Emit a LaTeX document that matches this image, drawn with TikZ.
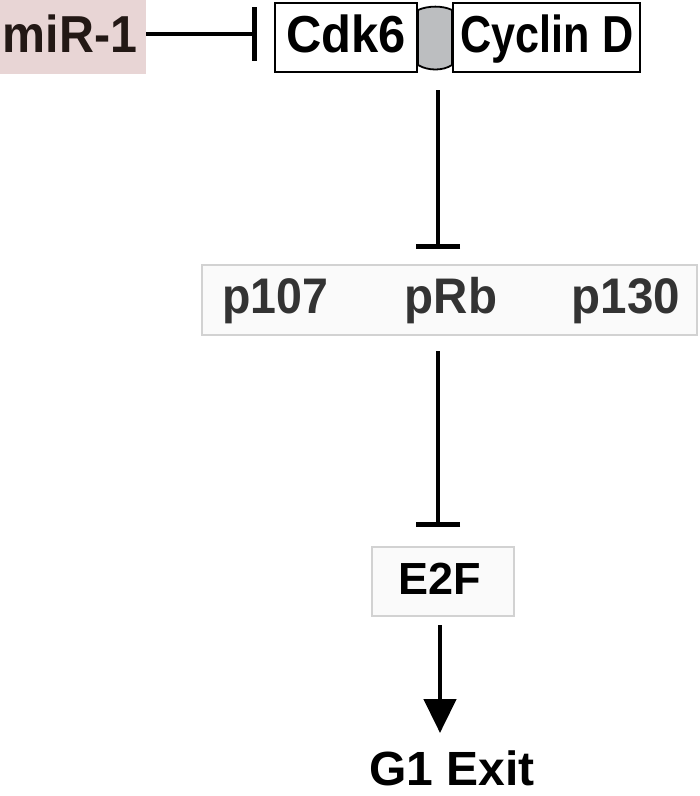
\documentclass[tikz,border=0pt]{standalone}
\usepackage{fontspec}
\setmainfont{Liberation Sans}
\usetikzlibrary{arrows.meta}
\definecolor{mirpink}{HTML}{E8D5D5}
\definecolor{mirtext}{HTML}{231815}
\definecolor{linkgrey}{HTML}{BCBEC0}
\definecolor{boxedge}{HTML}{D2D2D2}
\definecolor{boxfill}{HTML}{FAFAFA}
\definecolor{gtext}{HTML}{333333}
\newcommand{\fsz}[1]{\bfseries\fontsize{#1}{#1}\selectfont}
\begin{document}
\begin{tikzpicture}[x=1pt,y=-1pt,
  lbl/.style={inner sep=0pt, anchor=base},
  blackbox/.style={draw=black, line width=2pt, fill=white, inner sep=0pt},
  greybox/.style={draw=boxedge, line width=2.2pt, fill=boxfill, inner sep=0pt},
  conn/.style={line width=4.6pt, black},
  inhib/.style={conn, -{Bar[width=#1, line width=4.6pt]}},
  activ/.style={conn, -{Triangle[width=32pt, length=34pt]}}]
\useasboundingbox (0,0) rectangle (700,796);
% miR-1
\node[fill=mirpink, minimum width=146pt, minimum height=74pt, inner sep=0pt] (mirbox) at (73,37) {};
\node[lbl, text=mirtext] (mir) at (70,52) {\scalebox{0.93}[1]{\fsz{52}miR-1}};
% complex
\node[blackbox, minimum width=142pt, minimum height=69pt] (cdkbox) at (346,37.5) {};
\node[blackbox, minimum width=187pt, minimum height=69pt] (cycbox) at (546.5,37.5) {};
\draw[line width=1.8pt, fill=linkgrey]
  (cdkbox.east |- 0,10) .. controls (428,5.5) and (443,5.5) .. (cycbox.west |- 0,10)
  -- (cycbox.west |- 0,65) .. controls (443,71) and (428,71) .. (cdkbox.east |- 0,65) -- cycle;
\coordinate (link) at (438,38);
\node[lbl] (cdk) at (cdkbox.center |- 0,52) {\scalebox{0.94}[1]{\fsz{52}Cdk6}};
\node[lbl] (cyc) at (547,52) {\scalebox{0.83}[1]{\fsz{52}Cyclin D}};
% pocket proteins
\node[greybox, minimum width=495pt, minimum height=70pt] (prbbox) at (449.5,300) {};
\node[lbl, text=gtext] (p107) at (275,313) {\scalebox{0.93}[1]{\fsz{50}p107}};
\node[lbl, text=gtext] (prb) at (451,313) {\scalebox{0.95}[1]{\fsz{50}pRb}};
\node[lbl, text=gtext] (p130) at (626,313) {\scalebox{0.95}[1]{\fsz{50}p130}};
% E2F
\node[greybox, minimum width=142pt, minimum height=69pt] (e2fbox) at (443,581.5) {};
\node[lbl] (e2f) at (440,594) {\fsz{45}E2F};
% G1 exit
\node[lbl] (g1) at (452,785) {\fsz{48}G1 Exit};
\coordinate (g1top) at (440,745);
% connectors
\draw[inhib=54pt, shorten >=17pt] (mirbox.east |- 0,34) -- (cdkbox.west |- 0,34);
\draw[inhib=44pt, shorten <=52pt, shorten >=15pt] (link) -- (link |- prbbox.north);
\draw[inhib=44pt, shorten <=15pt, shorten >=19pt] (link |- prbbox.south) -- (link |- e2fbox.north);
\draw[activ, shorten <=8pt, shorten >=12pt] (g1top |- e2fbox.south) -- (g1top);
\end{tikzpicture}
\end{document}
